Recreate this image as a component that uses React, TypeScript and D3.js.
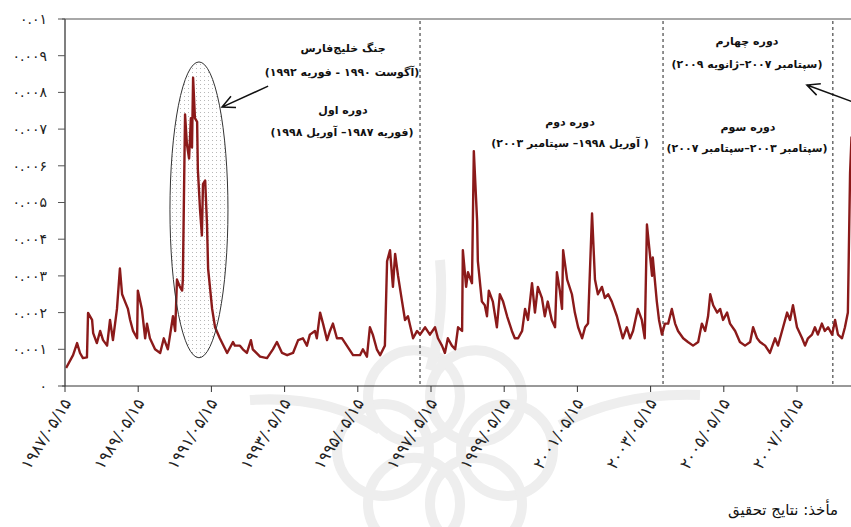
import React from 'react';
import * as d3 from 'd3';

const obsYear = [
  1987.40, 1987.59, 1987.70, 1987.78, 1987.86, 1987.97, 1988.00, 1988.11, 1988.14, 1988.24,
  1988.33, 1988.41, 1988.52, 1988.60, 1988.68, 1988.79, 1988.87, 1988.93, 1989.01, 1989.09,
  1989.15, 1989.23, 1989.34, 1989.36, 1989.47, 1989.56, 1989.61, 1989.69, 1989.83, 1989.97,
  1990.07, 1990.18, 1990.32, 1990.38, 1990.43, 1990.51, 1990.57, 1990.59, 1990.65, 1990.70,
  1990.76, 1990.81, 1990.84, 1990.87, 1990.92, 1990.98, 1991.00, 1991.06, 1991.11, 1991.14,
  1991.20, 1991.25, 1991.28, 1991.39, 1991.47, 1991.60, 1991.80, 1991.96, 1992.01, 1992.15,
  1992.23, 1992.34, 1992.45, 1992.50, 1992.70, 1992.89, 1993.05, 1993.16, 1993.30, 1993.44,
  1993.60, 1993.74, 1993.87, 1993.98, 1994.06, 1994.20, 1994.25, 1994.34, 1994.42, 1994.53,
  1994.61, 1994.69, 1994.80, 1994.94, 1995.07, 1995.24, 1995.43, 1995.51, 1995.62, 1995.70,
  1995.78, 1995.89, 1995.98, 1996.11, 1996.17, 1996.25, 1996.33, 1996.39, 1996.47, 1996.58,
  1996.66, 1996.74, 1996.88, 1996.99, 1997.07, 1997.21, 1997.34, 1997.48, 1997.56, 1997.67,
  1997.75, 1997.83, 1997.94, 1998.03, 1998.11, 1998.22, 1998.24, 1998.33, 1998.38, 1998.49,
  1998.54, 1998.63, 1998.65, 1998.76, 1998.84, 1998.90, 1998.95, 1999.06, 1999.17, 1999.25,
  1999.34, 1999.45, 1999.58, 1999.66, 1999.75, 1999.86, 1999.94, 2000.02, 2000.13, 2000.21,
  2000.29, 2000.40, 2000.48, 2000.56, 2000.67, 2000.76, 2000.81, 2000.89, 2000.95, 2000.98,
  2001.09, 2001.22, 2001.30, 2001.39, 2001.50, 2001.58, 2001.66, 2001.77, 2001.85, 2001.93,
  2002.04, 2002.12, 2002.21, 2002.31, 2002.45, 2002.53, 2002.61, 2002.72, 2002.81, 2002.89,
  2003.02, 2003.13, 2003.21, 2003.27, 2003.35, 2003.41, 2003.43, 2003.54, 2003.60, 2003.68,
  2003.76, 2003.85, 2003.95, 2004.04, 2004.12, 2004.26, 2004.39, 2004.53, 2004.67, 2004.77,
  2004.86, 2004.94, 2005.00, 2005.08, 2005.19, 2005.27, 2005.35, 2005.46, 2005.54, 2005.68,
  2005.81, 2005.95, 2006.09, 2006.17, 2006.28, 2006.36, 2006.50, 2006.63, 2006.77, 2006.85,
  2006.99, 2007.10, 2007.18, 2007.26, 2007.37, 2007.51, 2007.59, 2007.67, 2007.78, 2007.86,
  2007.94, 2008.05, 2008.13, 2008.22, 2008.33, 2008.41, 2008.49, 2008.60, 2008.68, 2008.76,
  2008.82, 2008.86,
];

const obsValue = [
  0.00049, 0.00084, 0.00117, 0.00090, 0.00076, 0.00078, 0.00199, 0.00180, 0.00144, 0.00117,
  0.00150, 0.00125, 0.00110, 0.00180, 0.00125, 0.00210, 0.00320, 0.00250, 0.00230, 0.00210,
  0.00180, 0.00150, 0.00130, 0.00260, 0.00210, 0.00130, 0.00170, 0.00130, 0.00100, 0.00090,
  0.00130, 0.00100, 0.00190, 0.00150, 0.00290, 0.00270, 0.00260, 0.00290, 0.00740, 0.00660,
  0.00620, 0.00730, 0.00650, 0.00840, 0.00730, 0.00720, 0.00590, 0.00480, 0.00410, 0.00550,
  0.00560, 0.00440, 0.00320, 0.00210, 0.00160, 0.00130, 0.00090, 0.00120, 0.00110, 0.00110,
  0.00100, 0.00090, 0.00125, 0.00100, 0.00080, 0.00076, 0.00100, 0.00120, 0.00090, 0.00084,
  0.00090, 0.00125, 0.00130, 0.00110, 0.00140, 0.00150, 0.00130, 0.00200, 0.00170, 0.00125,
  0.00150, 0.00170, 0.00130, 0.00130, 0.00110, 0.00084, 0.00084, 0.00100, 0.00080, 0.00160,
  0.00140, 0.00100, 0.00084, 0.00110, 0.00340, 0.00370, 0.00270, 0.00360, 0.00300, 0.00230,
  0.00180, 0.00190, 0.00130, 0.00150, 0.00140, 0.00160, 0.00140, 0.00160, 0.00130, 0.00110,
  0.00090, 0.00130, 0.00110, 0.00100, 0.00160, 0.00150, 0.00370, 0.00270, 0.00310, 0.00280,
  0.00640, 0.00450, 0.00340, 0.00230, 0.00220, 0.00190, 0.00260, 0.00230, 0.00160, 0.00250,
  0.00230, 0.00190, 0.00150, 0.00130, 0.00130, 0.00150, 0.00210, 0.00180, 0.00280, 0.00200,
  0.00270, 0.00240, 0.00190, 0.00230, 0.00180, 0.00160, 0.00310, 0.00260, 0.00210, 0.00370,
  0.00290, 0.00250, 0.00200, 0.00160, 0.00130, 0.00160, 0.00170, 0.00470, 0.00290, 0.00250,
  0.00270, 0.00240, 0.00250, 0.00230, 0.00190, 0.00160, 0.00130, 0.00160, 0.00130, 0.00150,
  0.00210, 0.00180, 0.00130, 0.00440, 0.00360, 0.00300, 0.00350, 0.00230, 0.00180, 0.00140,
  0.00170, 0.00170, 0.00210, 0.00170, 0.00150, 0.00130, 0.00120, 0.00110, 0.00120, 0.00170,
  0.00150, 0.00190, 0.00250, 0.00220, 0.00200, 0.00210, 0.00180, 0.00200, 0.00170, 0.00150,
  0.00120, 0.00110, 0.00120, 0.00160, 0.00130, 0.00120, 0.00110, 0.00090, 0.00130, 0.00110,
  0.00160, 0.00200, 0.00180, 0.00220, 0.00160, 0.00130, 0.00110, 0.00130, 0.00140, 0.00160,
  0.00140, 0.00170, 0.00150, 0.00160, 0.00140, 0.00180, 0.00140, 0.00130, 0.00160, 0.00200,
  0.00580, 0.00680,
];

const yTickValues = [0, 0.001, 0.002, 0.003, 0.004, 0.005, 0.006, 0.007, 0.008, 0.009, 0.01];
const yTickLabels = ['۰', '۰.۰۰۱', '۰.۰۰۲', '۰.۰۰۳', '۰.۰۰۴', '۰.۰۰۵', '۰.۰۰۶', '۰.۰۰۷', '۰.۰۰۸', '۰.۰۰۹', '۰.۰۱'];

const xTickYears = [1987.37, 1989.37, 1991.37, 1993.37, 1995.37, 1997.37, 1999.37, 2001.37, 2003.37, 2005.37, 2007.37];
const xTickLabels = [
  '۱۹۸۷/۰۵/۱۵', '۱۹۸۹/۰۵/۱۵', '۱۹۹۱/۰۵/۱۵', '۱۹۹۳/۰۵/۱۵', '۱۹۹۵/۰۵/۱۵', '۱۹۹۷/۰۵/۱۵',
  '۱۹۹۹/۰۵/۱۵', '۲۰۰۱/۰۵/۱۵', '۲۰۰۳/۰۵/۱۵', '۲۰۰۵/۰۵/۱۵', '۲۰۰۷/۰۵/۱۵',
];

// dashed period boundaries
const periodBreaks = [1997.07, 2003.71, 2008.35];

const notes = [
  { text: 'جنگ خلیج‌فارس', x: 343, y: 48 },
  { text: '(آگوست ۱۹۹۰ - فوریه ۱۹۹۲)', x: 342, y: 72 },
  { text: 'دوره اول', x: 343, y: 110 },
  { text: '(فوریه ۱۹۸۷– آوریل ۱۹۹۸)', x: 342, y: 132 },
  { text: 'دوره دوم', x: 570, y: 122 },
  { text: '( آوریل ۱۹۹۸– سپتامبر ۲۰۰۳)', x: 570, y: 143 },
  { text: 'دوره چهارم', x: 747, y: 41 },
  { text: '(سپتامبر ۲۰۰۷–ژانویه ۲۰۰۹)', x: 747, y: 64 },
  { text: 'دوره سوم', x: 748, y: 127 },
  { text: '(سپتامبر ۲۰۰۳–سپتامبر ۲۰۰۷)', x: 747, y: 148 },
];

const W = 851;
const H = 527;
const left = 65;
const top = 19;
const bottom = 386;

const x = d3.scaleLinear().domain([1987.37, 2009.37]).range([left, left + 22 * 36.6]);
const y = d3.scaleLinear().domain([0, 0.01]).range([bottom, top]);

const arrow = (x1: number, y1: number, x2: number, y2: number) => {
  const a = Math.atan2(y1 - y2, x1 - x2);
  const len = 14;
  const sp = 0.45;
  const ax = x2 + len * Math.cos(a + sp);
  const ay = y2 + len * Math.sin(a + sp);
  const bx = x2 + len * Math.cos(a - sp);
  const by = y2 + len * Math.sin(a - sp);
  return `M${x1},${y1}L${x2},${y2}M${ax},${ay}L${x2},${y2}L${bx},${by}`;
};

// faint watermark: ring of circles behind the plot
const wmAngles = [0, 60, 120, 180, 240, 300];

const App = () => {
  const line = d3.line<number>()
    .x((d, i) => x(obsYear[i]))
    .y(d => y(d));

  const font = "'DejaVu Sans', sans-serif";

  return (
    <div>
      <svg width={W} height={H} style={{ position: 'absolute', left: 0, top: 0, background: '#fff' }}>
        <defs>
          <pattern id="dots" width="4" height="4" patternUnits="userSpaceOnUse">
            <rect width="1" height="1" fill="#b8b8b8" />
          </pattern>
          <clipPath id="plot">
            <rect x={left} y={0} width={W - left} height={bottom} />
          </clipPath>
        </defs>

        {/* watermark */}
        <g fill="none" stroke="#eeeeee" strokeWidth={10}>
          {wmAngles.map(a => (
            <circle key={a} cx={445 + 62 * Math.cos((a * Math.PI) / 180)} cy={450 + 62 * Math.sin((a * Math.PI) / 180)} r={46} />
          ))}
          <path d="M250,400 Q330,395 380,430 M700,395 Q620,392 560,425 M440,260 Q445,320 430,370" />
        </g>

        {/* top frame line */}
        <line x1={left - 3} x2={W} y1={top} y2={top} stroke="#a8a8a8" strokeWidth={2} />

        {/* gulf war ellipse fill */}
        <ellipse cx={x(1991.03)} cy={y(0.0048)} rx={29} ry={y(0) - y(0.00403)} fill="url(#dots)" />

        {/* period boundaries */}
        {periodBreaks.map((p, i) => (
          <line key={i} x1={x(p)} x2={x(p)} y1={top + 2} y2={bottom} stroke="#222" strokeWidth={1} strokeDasharray="3,3" />
        ))}

        <path d={line(obsValue) || ''} fill="none" stroke="#8b1a1a" strokeWidth={2.4} strokeLinejoin="round" clipPath="url(#plot)" />

        <ellipse cx={x(1991.03)} cy={y(0.0048)} rx={29} ry={y(0) - y(0.00403)} fill="none" stroke="#333" strokeWidth={1} />

        {/* axes */}
        <line x1={left} x2={left} y1={top} y2={bottom} stroke="#555" strokeWidth={1.5} />
        <line x1={left - 3} x2={W} y1={bottom} y2={bottom} stroke="#333" strokeWidth={1} />
        {yTickValues.map((v, i) => (
          <g key={i}>
            <line x1={left - 7} x2={left} y1={y(v)} y2={y(v)} stroke="#555" strokeWidth={1} />
            <text x={47} y={y(v)} dy="0.35em" textAnchor="end" fontFamily={font} fontSize={14} fill="#222">
              {yTickLabels[i]}
            </text>
          </g>
        ))}
        {xTickYears.map((t, i) => (
          <g key={i}>
            <line x1={x(t)} x2={x(t)} y1={bottom} y2={bottom + 6} stroke="#333" strokeWidth={1} />
            <text
              transform={`translate(${x(t) + 2},${bottom + 14}) rotate(-58)`}
              textAnchor="end"
              dy="0.35em"
              fontFamily={font}
              fontSize={16}
              letterSpacing={1}
              fill="#222"
            >
              {xTickLabels[i]}
            </text>
          </g>
        ))}

        {/* annotations */}
        <path d={arrow(x(1992.92), y(0.00817), x(1991.66), y(0.0076))} fill="none" stroke="#111" strokeWidth={1.5} />
        <path d={arrow(x(2008.9), y(0.00774), x(2007.64), y(0.0082))} fill="none" stroke="#111" strokeWidth={1.5} />
        {notes.map((n, i) => (
          <text key={i} x={n.x} y={n.y} dy="0.35em" textAnchor="middle" direction="rtl" fontFamily={font} fontWeight="bold" fontSize={11} fill="#111">
            {n.text}
          </text>
        ))}

        <text x={838} y={515} textAnchor="end" fontFamily={font} fontSize={15} fill="#111">
          مأخذ: نتایج تحقیق
        </text>
      </svg>
    </div>
  );
};

export default App;
